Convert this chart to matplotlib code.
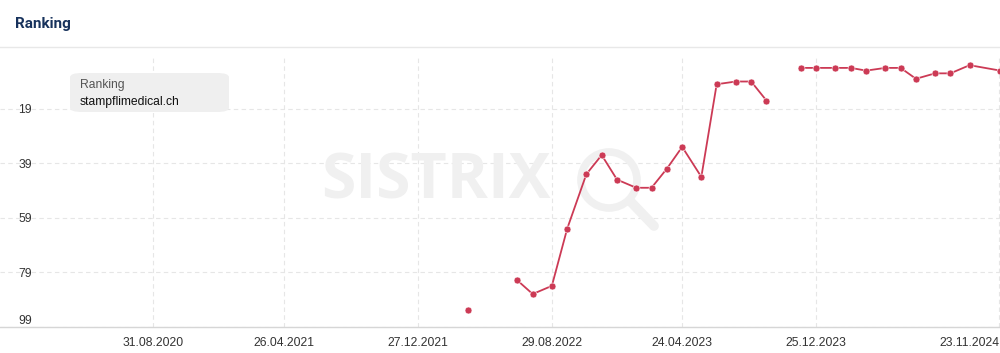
import matplotlib
matplotlib.use('Agg')
import matplotlib.pyplot as plt
import matplotlib.dates as mdates
from matplotlib.patches import FancyBboxPatch, Circle
from matplotlib.lines import Line2D
import numpy as np
import pandas as pd

plt.rcParams['font.family'] = ['Liberation Sans', 'DejaVu Sans']

# ==================== data ====================
dates = ['2022-03-28', '2022-04-25', '2022-05-30', '2022-06-27', '2022-07-25', '2022-08-29',
         '2022-09-26', '2022-10-31', '2022-11-28', '2022-12-26', '2023-01-30', '2023-02-27',
         '2023-03-27', '2023-04-24', '2023-05-29', '2023-06-26', '2023-07-31', '2023-08-28',
         '2023-09-25', '2023-10-30', '2023-11-27', '2023-12-25', '2024-01-29', '2024-02-26',
         '2024-03-25', '2024-04-29', '2024-05-27', '2024-06-24', '2024-07-29', '2024-08-26',
         '2024-09-30', '2024-11-25']
ranks = [93, np.nan, np.nan, 82, 87, 84,
         63, 43, 36, 45, 48, 48,
         41, 33, 44, 10, 9, 9,
         16, np.nan, 4, 4, 4, 4,
         5, 4, 4, 8, 6, 6,
         3, 5]

tick_dates = ['2020-08-31', '2021-04-26', '2021-12-27', '2022-08-29',
              '2023-04-24', '2023-12-25', '2024-11-23']
y_ticks = [19, 39, 59, 79, 99]
domain = 'stampflimedical.ch'

x = mdates.date2num(pd.to_datetime(dates))
xt = mdates.date2num(pd.to_datetime(tick_dates))

W, H = 1000, 353
fig = plt.figure(figsize=(W / 100, H / 100), dpi=100)
fig.patch.set_facecolor('white')

# title + separator
fig.text(15 / W, 1 - 24 / H, 'Ranking', fontsize=11, fontweight='bold',
         color='#17325c', family=['Roboto', 'DejaVu Sans'], va='center', ha='left')
fig.add_artist(Line2D([0, 1], [1 - 47 / H, 1 - 47 / H], color='#e8e8e8', lw=1))

top_px, bot_px = 57, 327
ax = fig.add_axes([0, 1 - bot_px / H, 1, (bot_px - top_px) / H])
ax.set_facecolor('none')

x0 = mdates.date2num(pd.Timestamp('2019-11-25'))
x1 = mdates.date2num(pd.Timestamp('2024-11-24 12:00'))
ax.set_xlim(x0, x1)
ax.set_ylim(99.1, 0)

ax.set_xticks(xt)
ax.set_xticklabels(pd.to_datetime(tick_dates).strftime('%d.%m.%Y'))
ax.set_yticks(y_ticks)
ax.set_yticklabels([str(v) for v in y_ticks])
ax.tick_params(axis='x', length=0, pad=7, labelsize=8.7, colors='#333333')
ax.tick_params(axis='y', length=0, pad=-23, labelsize=8.7, colors='#333333')
for lab in ax.get_yticklabels():
    lab.set_horizontalalignment('right')
    if lab.get_text() == '99':
        lab.set_verticalalignment('bottom')
xl = ax.get_xticklabels()
xl[-1].set_horizontalalignment('right')
xl[-1].set_x(xt[-1])

for s in ['top', 'left', 'right']:
    ax.spines[s].set_visible(False)
ax.spines['bottom'].set_color('#d6d6d6')
ax.spines['bottom'].set_linewidth(1)

ax.set_axisbelow(True)
ax.grid(True, color='#e6e6e6', linestyle=(0, (4, 3)), linewidth=0.8)

# watermark (SISTRIX text + magnifier) inside the axes, under the series line
wm = '#f0f0f0'
ax.text(0.321, 1 - 182 / H, 'SISTRIX', transform=fig.transFigure, fontsize=45, fontweight='bold',
        color=wm, family=['Open Sans', 'DejaVu Sans'], ha='left', va='center', zorder=1)
ax.add_artist(Circle((6.09, (H - 180) / 100), 0.28, transform=fig.dpi_scale_trans,
                     fill=False, ec=wm, lw=5.5, zorder=1, clip_on=False))
ax.add_artist(Line2D([6.31, 6.54], [(H - 202) / 100, (H - 226) / 100],
                     transform=fig.dpi_scale_trans, color=wm,
                     lw=7, solid_capstyle='round', zorder=1, clip_on=False))

ax.plot(x, ranks, '-o', color='#cc3a55', lw=1.3, markersize=5,
        markeredgecolor='white', markeredgewidth=0.4, zorder=3)

# tooltip box
fig.add_artist(FancyBboxPatch((70 / W, 1 - 112 / H), 159 / W, 39 / H,
                              boxstyle='round,pad=0,rounding_size=0.012',
                              transform=fig.transFigure, fc='#efefef', ec='none', zorder=4))
fig.text(80 / W, 1 - 85 / H, 'Ranking', fontsize=8.7, color='#555555', va='center', zorder=5)
fig.text(80 / W, 1 - 102 / H, domain, fontsize=8.7, color='#111111', va='center', zorder=5)

fig.savefig('out.png', dpi=100)
